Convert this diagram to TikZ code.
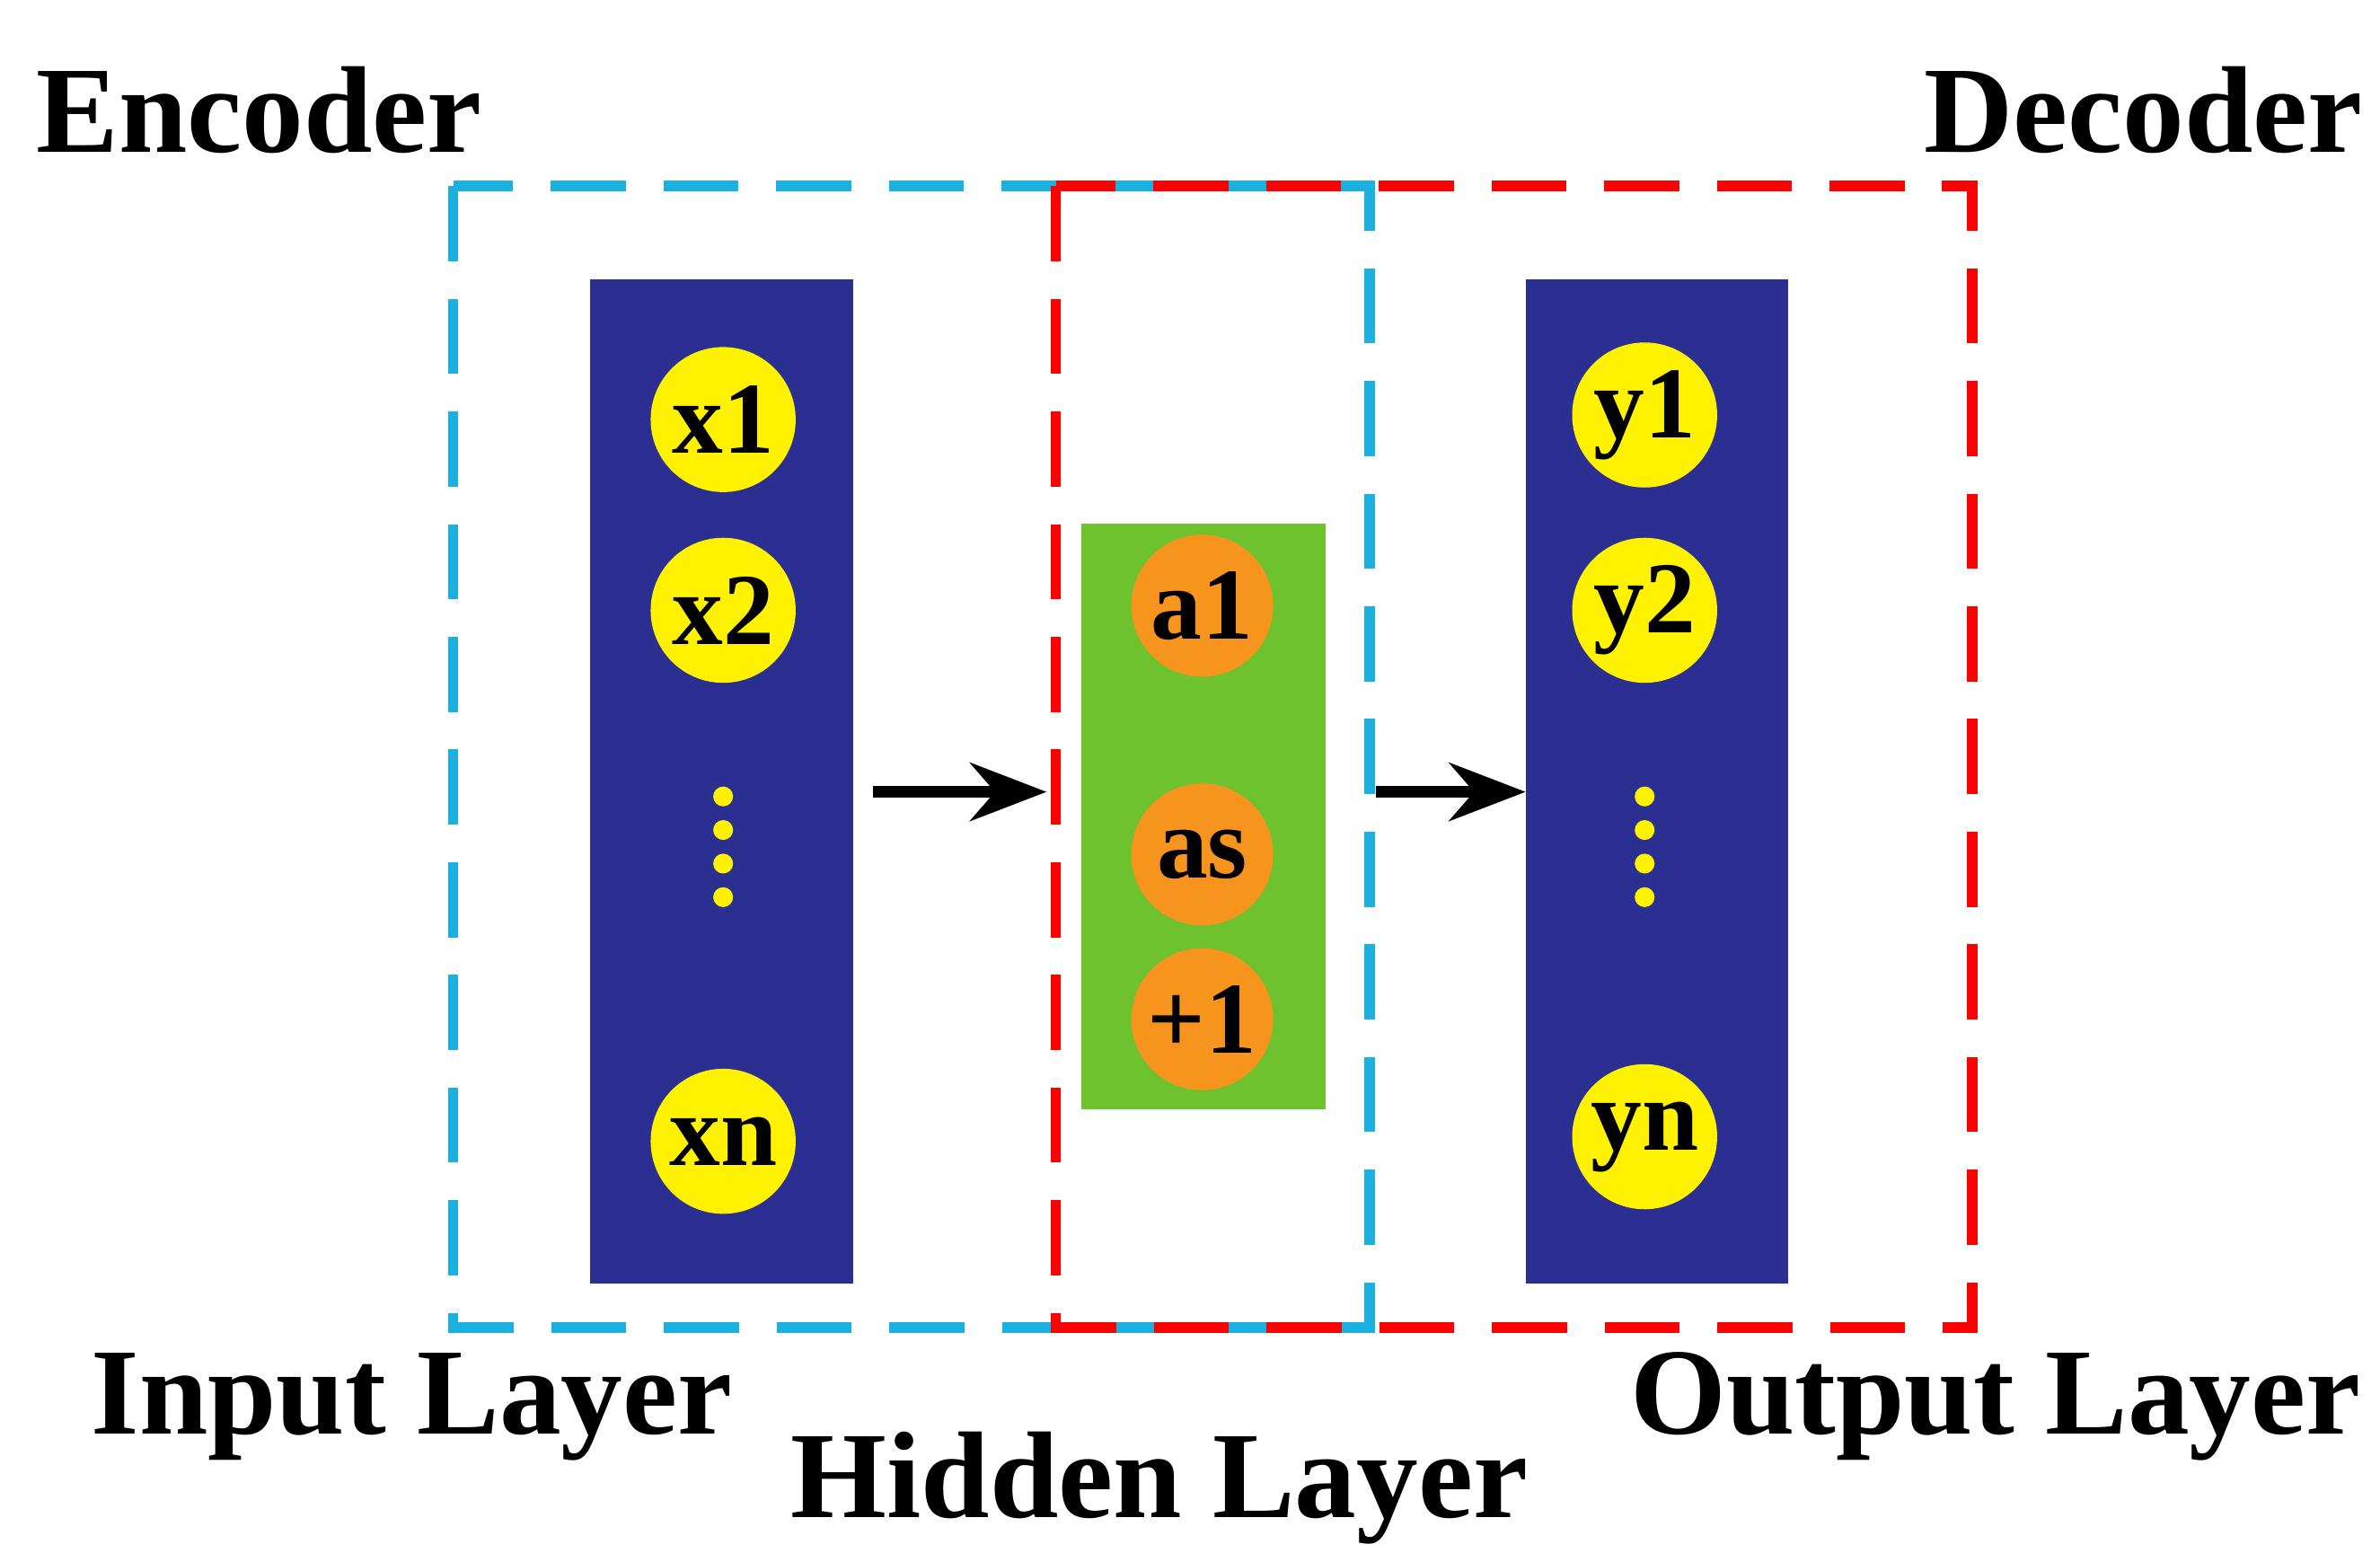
\documentclass[tikz,border=0pt]{standalone}
\usepackage{fontspec}
\setmainfont{Liberation Serif}
\usetikzlibrary{arrows.meta}
\definecolor{panel}{HTML}{2B2F91}
\definecolor{grn}{HTML}{6DC22E}
\definecolor{ylw}{HTML}{FFF200}
\definecolor{org}{HTML}{F7941D}
\definecolor{cyanb}{HTML}{1AB0E0}
\begin{document}
\begin{tikzpicture}[x=0.01cm,y=-0.01cm,
 big/.style={font=\bfseries\fontsize{23}{26}\selectfont},
 yc/.style={circle,fill=ylw,minimum size=0.95cm,inner sep=0,font=\bfseries\fontsize{19}{20}\selectfont},
 oc/.style={circle,fill=org,minimum size=0.93cm,inner sep=0,font=\bfseries\fontsize{19}{20}\selectfont},
 dot/.style={circle,fill=ylw,minimum width=0.1cm,minimum height=0.13cm,inner sep=0},
 arr/.style={line width=2.2pt,-{Stealth[length=0.5cm,width=0.38cm]}}]
\useasboundingbox (0,0) rectangle (1560,1023.7);
\fill[panel] (387,183) rectangle (559,841);
\fill[panel] (1000,183) rectangle (1172,841);
\fill[grn] (709,343) rectangle (869,727);
\draw[cyanb,line width=2pt,dash pattern=on 14pt off 7pt] (297,122) rectangle (898,870);
\draw[red,line width=2pt,dash pattern=on 14pt off 7pt] (692,122) rectangle (1293,870);
\node[yc] (x1) at (474,275) {x1};
\node[yc] (x2) at (474,400) {x2};
\node[yc] (xn) at (474,748) {xn};
\node[yc] (y1) at (1078,272) {y1};
\node[yc] (y2) at (1078,400) {y2};
\node[yc] (yn) at (1078,745) {yn};
\foreach \i/\yy in {1/522,2/544,3/566,4/588}{
 \node[dot] (dl\i) at (474,\yy) {};
 \node[dot] (dr\i) at (1078,\yy) {};}
\node[oc] (a1) at (788,397) {a1};
\node[oc] (as) at (788,560) {as};
\node[oc] (p1) at (788,668) {+1};
\coordinate (s1) at (572,519); \coordinate (e1) at (686,519);
\coordinate (s2) at (902,519); \coordinate (e2) at (1000,519);
\draw[arr] (s1) -- (e1);
\draw[arr] (s2) -- (e2);
\node[big] (enc) at (170,72) {Encoder};
\node[big] (dec) at (1405,72) {Decoder};
\node[big] (il) at (270,922) {Input Layer};
\node[big] (ol) at (1308,922) {Output Layer};
\node[big] (hl) at (760,975) {Hidden Layer};
\end{tikzpicture}
\end{document}
